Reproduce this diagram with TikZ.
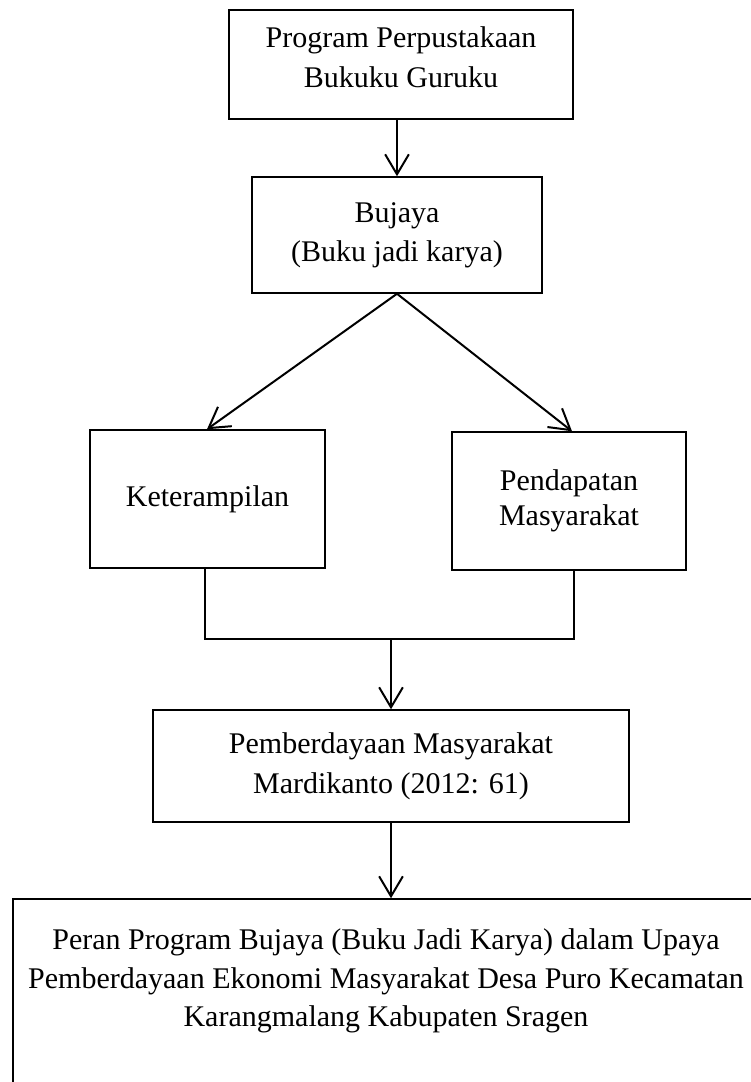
\documentclass[tikz,border=0pt]{standalone}
\usepackage{fontspec}
\setmainfont{Liberation Serif}
\usetikzlibrary{arrows.meta}

\begin{document}
\begin{tikzpicture}
	[x=0.4pt, y=-0.4pt,
	 box/.style = {draw, line width=0.6pt, inner sep=0pt},
	 txt/.style = {align=center, font=\fontsize{12}{15.5}\selectfont},
	 arr/.style = {line width=0.8pt, -{Straight Barb[length=8pt,width=9.5pt]}},
	 link/.style = {line width=0.6pt}]
	\clip (0,0) rectangle (751,1082);

	\node[box, minimum width=137.6pt, minimum height=43.6pt] (prog) at (401,64.5) {};
	\node[txt, font=\fontsize{12}{16}\selectfont] (prog-t) at (401,57) {Program Perpustakaan\\Bukuku Guruku};
	\node[box, txt, minimum width=116pt, minimum height=46.4pt] (bujaya) at (397,235) {Bujaya\\(Buku jadi karya)};
	\node[box, txt, minimum width=94pt, minimum height=55.2pt] (ketr) at (207.5,499) {Keterampilan};
	\node[box, txt, font=\fontsize{12}{14}\selectfont, minimum width=93.6pt, minimum height=55.2pt] (pend) at (569,501) {Pendapatan\\Masyarakat};
	\node[box, txt, font=\fontsize{12}{16}\selectfont, minimum width=190.4pt, minimum height=44.8pt] (pember) at (391,766) {Pemberdayaan Masyarakat\\Mardikanto (2012: 61)};
	\node[box, minimum width=298.4pt, minimum height=80pt] (final) at (386,999) {};
	\node[txt, font=\fontsize{12}{15.4}\selectfont] (final-t) at (386,981) {Peran Program Bujaya (Buku Jadi Karya) dalam Upaya\\Pemberdayaan Ekonomi Masyarakat Desa Puro Kecamatan\\Karangmalang Kabupaten Sragen};
	\coordinate (join) at (391,639);

	\draw[arr] (bujaya.north |- prog.south) -- (bujaya.north);
	\draw[arr] (bujaya.south) -- ([xshift=-0.2pt]ketr.north);
	\draw[arr] (bujaya.south) -- ([xshift=1.2pt]pend.north);
	\draw[link] ([xshift=-1pt]ketr.south) |- (join) -| ([xshift=2pt]pend.south);
	\draw[arr] (join) -- (pember.north);
	\draw[arr] (pember.south) -- (pember.south |- final.north);

\end{tikzpicture}
\end{document}
